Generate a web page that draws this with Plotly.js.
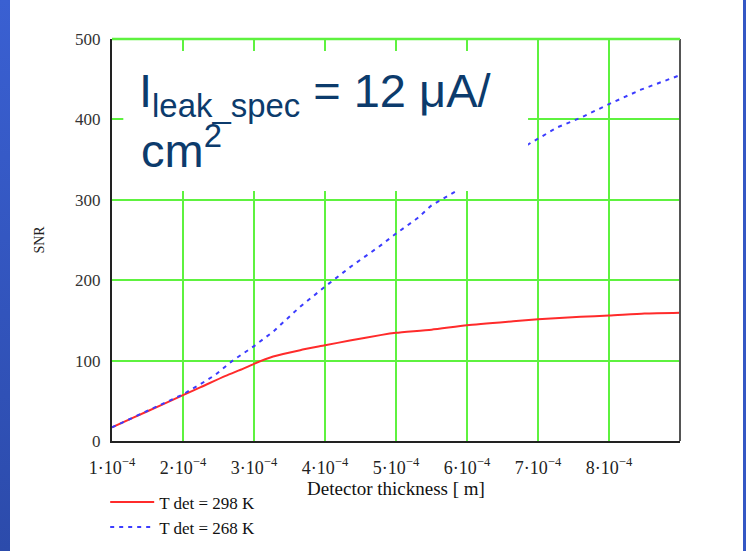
<!DOCTYPE html>
<html>
<head>
<meta charset="utf-8">
<script src="https://cdn.plot.ly/plotly-3.0.1.min.js"></script>
<style>
  html, body { margin: 0; padding: 0; background: #ffffff; }
  #frame { position: relative; width: 746px; height: 551px; overflow: hidden; background: #ffffff; }
  #edgeLeft { position: absolute; left: 0; top: 0; width: 10px; height: 551px;
              background: linear-gradient(to bottom, #3a60d2, #2c4bab); }
  #edgeRight { position: absolute; right: 0; top: 0; width: 3px; height: 551px; background: #3457c4; }
  #chart { position: absolute; left: 10px; top: 0; width: 733px; height: 551px; }
</style>
</head>
<body>
<div id="frame">
  <div id="edgeLeft"></div>
  <div id="chart"></div>
  <div id="edgeRight"></div>
</div>
<script>
// Detector thickness [m] and SNR for T det = 298 K
const thickness298 = [1.0e-4, 1.3e-4, 1.7e-4, 2.0e-4, 2.25e-4, 2.6e-4, 2.85e-4, 3.0e-4, 3.27e-4,
                      3.65e-4, 4.0e-4, 4.35e-4, 4.8e-4, 5.0e-4, 5.5e-4, 6.0e-4, 6.65e-4, 7.0e-4,
                      7.6e-4, 8.0e-4, 8.5e-4, 9.0e-4];
const snr298 = [17, 29, 45, 57, 67, 81, 90, 96, 105, 113, 119, 125, 132, 134.5, 138.5, 144, 149,
                151.5, 154.5, 156, 158.5, 159.5];

// Detector thickness [m] and SNR for T det = 268 K
const thickness268 = [1.0e-4, 1.3e-4, 1.7e-4, 2.0e-4, 2.25e-4, 2.45e-4, 2.7e-4, 3.0e-4, 3.27e-4,
                      3.65e-4, 4.0e-4, 4.35e-4, 4.78e-4, 5.0e-4, 5.3e-4, 5.5e-4, 5.83e-4, 6.2e-4,
                      6.5e-4, 6.9e-4, 7.0e-4, 7.27e-4, 7.6e-4, 8.0e-4, 8.45e-4, 9.0e-4];
const snr268 = [17, 29, 45, 58, 71, 82, 100, 118, 136, 167, 192, 216, 243, 258, 277, 293, 310, 331,
                349, 371, 376, 390, 402, 419, 437, 455];

// Axis ticks
const xTickVals = [1e-4, 2e-4, 3e-4, 4e-4, 5e-4, 6e-4, 7e-4, 8e-4];
const xTickText = ['1·10<sup>−4</sup>', '2·10<sup>−4</sup>', '3·10<sup>−4</sup>', '4·10<sup>−4</sup>',
                   '5·10<sup>−4</sup>', '6·10<sup>−4</sup>', '7·10<sup>−4</sup>', '8·10<sup>−4</sup>'];
const yTickVals = [0, 100, 200, 300, 400, 500];

const seriesNames = ['T det = 298 K', 'T det = 268 K'];

const GRID = '#5ef23f';
const SERIF = '"Liberation Serif", "Times New Roman", serif';
const SANS = '"Liberation Sans", Arial, sans-serif';

const traces = [
  {
    x: thickness298, y: snr298, name: seriesNames[0], type: 'scatter', mode: 'lines',
    line: { color: '#ff2b2b', width: 2, shape: 'spline', smoothing: 0.6 }
  },
  {
    x: thickness268, y: snr268, name: seriesNames[1], type: 'scatter', mode: 'lines',
    line: { color: '#3c3cff', width: 2, dash: '4px,5px' }
  }
];

const layout = {
  width: 733, height: 551,
  margin: { l: 101.7, r: 63, t: 39, b: 110, autoexpand: false },
  paper_bgcolor: '#ffffff',
  plot_bgcolor: '#ffffff',
  showlegend: true,
  legend: {
    x: -0.012, xanchor: 'left', y: -0.108, yanchor: 'top',
    bgcolor: 'rgba(0,0,0,0)', tracegroupgap: 0, itemwidth: 44,
    font: { family: SERIF, size: 17, color: '#111111' }
  },
  xaxis: {
    range: [1e-4, 9e-4],
    tickmode: 'array', tickvals: xTickVals, ticktext: xTickText,
    showgrid: true, gridcolor: GRID, gridwidth: 2,
    showline: true, linecolor: '#222222', linewidth: 2,
    zeroline: false, ticks: '',
    automargin: true,
    ticklabelstandoff: 9,
    tickfont: { family: SERIF, size: 18, color: '#222222' },
    title: { text: 'Detector thickness [ m]', font: { family: SERIF, size: 19, color: '#111111' }, standoff: 0 }
  },
  yaxis: {
    range: [0, 500],
    tickmode: 'array', tickvals: yTickVals,
    showgrid: true, gridcolor: GRID, gridwidth: 2,
    showline: true, linecolor: '#222222', linewidth: 2,
    zeroline: false, ticks: '',
    ticklabelstandoff: 6,
    tickfont: { family: SERIF, size: 17, color: '#333333' },
    title: { text: 'SNR', font: { family: SERIF, size: 14, color: '#222222' }, standoff: 27 }
  },
  shapes: [
    // white panel behind the leakage-current caption
    { type: 'rect', xref: 'paper', yref: 'paper', x0: 0.0199, x1: 0.7325, y0: 0.622, y1: 0.970,
      fillcolor: '#ffffff', line: { width: 0 }, layer: 'above' },
    // right frame edge
    { type: 'line', xref: 'paper', yref: 'paper', x0: 1, x1: 1, y0: 0, y1: 1,
      line: { color: '#555555', width: 2 }, layer: 'above' },
    // top frame edge
    { type: 'line', xref: 'paper', yref: 'paper', x0: 0, x1: 1, y0: 1, y1: 1,
      line: { color: GRID, width: 2.5 }, layer: 'above' }
  ],
  annotations: [
    { xref: 'paper', yref: 'paper', x: 0.0445, y: 0.944, xanchor: 'left', yanchor: 'top',
      showarrow: false, align: 'left',
      text: 'I<sub>leak_spec</sub> = 12 μA/',
      font: { family: SANS, size: 47, color: '#0c3b6c' } },
    { xref: 'paper', yref: 'paper', x: 0.048, y: 0.811, xanchor: 'left', yanchor: 'top',
      showarrow: false, align: 'left',
      text: 'cm<sup>2</sup>',
      font: { family: SANS, size: 47, color: '#0c3b6c' } }
  ]
};

Plotly.newPlot('chart', traces, layout, { displayModeBar: false, staticPlot: true });
</script>
</body>
</html>
